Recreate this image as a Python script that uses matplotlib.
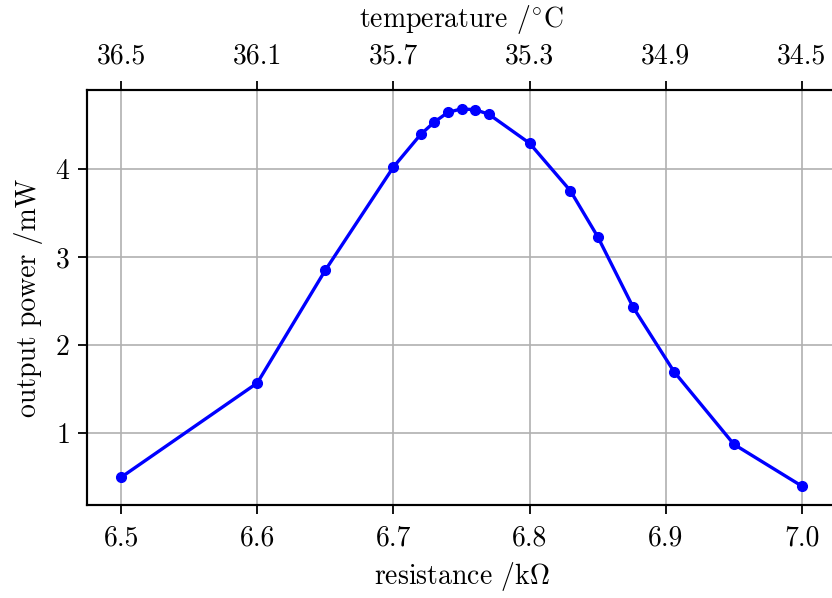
import numpy as np
from matplotlib import pyplot as plt

# resistance in kOhm and output power in mW
resistance = [6.5, 6.6, 6.65, 6.7, 6.72, 6.73, 6.74, 6.75, 6.76, 6.77,
              6.8, 6.83, 6.85, 6.876, 6.906, 6.95, 7.0]
power = [0.50, 1.57, 2.85, 4.02, 4.39, 4.53, 4.64, 4.68, 4.67, 4.62,
         4.29, 3.75, 3.23, 2.43, 1.70, 0.875, 0.40]

res_ticks = [6.5, 6.6, 6.7, 6.8, 6.9, 7.0]
temp_labels = ['36.5', '36.1', '35.7', '35.3', '34.9', '34.5']

plt.rcParams['font.family'] = 'serif'
plt.rcParams['font.serif'] = ['cmr10']
plt.rcParams['mathtext.fontset'] = 'cm'
plt.rcParams['axes.formatter.use_mathtext'] = True
plt.rcParams['font.size'] = 20

fig = plt.figure(figsize=(8.32, 5.98), dpi=100)
ax = fig.add_axes([0.1046, 0.1555, 0.9002, 0.694])

ax.plot(resistance, power, color='blue', linewidth=2.4, marker='o', markersize=7)
ax.grid(True, color='#b0b0b0', linewidth=1.2)
ax.set_xticks(res_ticks)
ax.set_xticklabels(['%.1f' % t for t in res_ticks])
ax.set_xlabel(r'resistance /k$\Omega$', labelpad=6)
ax.set_ylabel('output power /mW', labelpad=8)
ax.set_xlim(6.475, 7.025)

ax2 = ax.twiny()
ax2.set_xlim(ax.get_xlim())
ax2.set_xticks(res_ticks)
ax2.set_xticklabels(temp_labels)
ax2.set_xlabel(r'temperature /$^{\circ}$C', labelpad=12)

for a in (ax, ax2):
    for s in a.spines.values():
        s.set_linewidth(1.5)
    a.tick_params(width=1.3, length=6.5, pad=8)
ax.tick_params(axis='y', pad=6)

fig.savefig('out.png', dpi=100)
